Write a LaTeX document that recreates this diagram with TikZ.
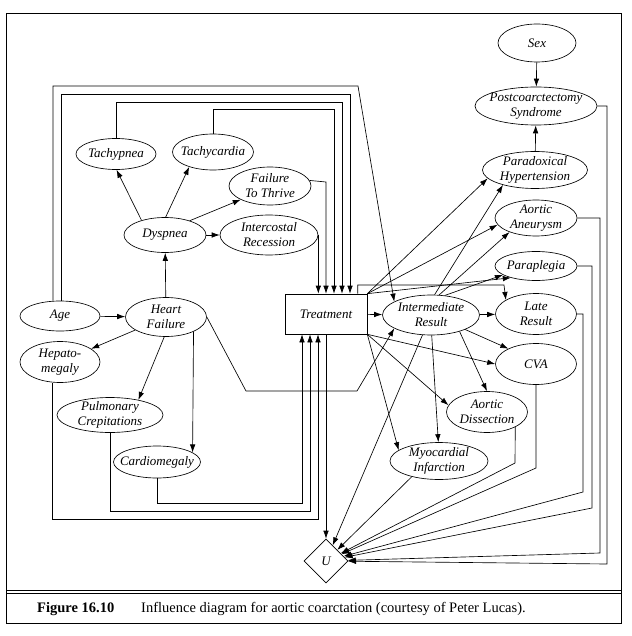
\documentclass[tikz,border=0pt]{standalone}
\usepackage{fontspec}
\setmainfont{Liberation Serif}
\usetikzlibrary{shapes.geometric,arrows.meta,calc}
\begin{document}
\begin{tikzpicture}[x=1pt,y=-1pt,
  ell/.style 2 args={ellipse, draw, line width=0.65pt, minimum width=#1, minimum height=#2, inner sep=0pt},
  lbl/.style={font=\fontsize{13}{15}\selectfont\itshape, align=center, inner sep=0pt},
  arr/.style={line width=0.65pt, -{Latex[length=8pt,width=5.5pt]}},
  boxnode/.style={draw, rectangle, line width=0.65pt, minimum width=82pt, minimum height=40pt, inner sep=0pt, font=\fontsize{13}{15}\selectfont\itshape},
  dia/.style={diamond, draw, line width=0.65pt, minimum width=44pt, minimum height=44pt, inner sep=0pt}
]
\useasboundingbox (0,0) rectangle (631,636);
\fill[white] (0,0) rectangle (631,636);
% frame and caption
\draw[line width=0.9pt] (6,13) rectangle (621,623);
\draw[line width=0.6pt] (6,590) -- (621,590);
\draw[line width=0.6pt] (6,593.5) -- (621,593.5);
\node[anchor=base west, inner sep=0pt, font=\fontsize{14.5}{17}\selectfont\bfseries] (figno) at (37,612) {Figure 16.10};
\node[anchor=base west, inner sep=0pt, font=\fontsize{14.5}{17}\selectfont] (cap) at (141,612) {Influence diagram for aortic coarctation (courtesy of Peter Lucas).};

% nodes - right column
\node[ell={78pt}{38pt}, label={[lbl]center:Sex}] (sex) at (537,43) {};
\node[ell={122pt}{38pt}, label={[lbl]center:Postcoarctectomy\\Syndrome}] (pcs) at (536,106) {};
\node[ell={105pt}{37pt}, label={[lbl]center:Paradoxical\\Hypertension}] (ph) at (535,170) {};
\node[ell={82pt}{36pt}, label={[lbl]center:Aortic\\Aneurysm}] (aa) at (536,218) {};
\node[ell={82pt}{29pt}, label={[lbl]center:Paraplegia}] (pp) at (536,266) {};
\node[ell={81pt}{41pt}, label={[lbl]center:Late\\Result}] (lr) at (536,314) {};
\node[ell={81pt}{41pt}, label={[lbl]center:CVA}] (cva) at (536,364) {};
% middle
\node[ell={97pt}{40pt}, label={[lbl]center:Intermediate\\Result}] (ir) at (431,315) {};
\node[boxnode] (tr) at (326,314) {Treatment};
\node[ell={81pt}{41pt}, label={[lbl]center:Aortic\\Dissection}] (ad) at (487,412) {};
\node[ell={98pt}{37pt}, label={[lbl]center:Myocardial\\Infarction}] (mi) at (439,461) {};
\node[dia, label={[lbl]center:U}] (u) at (326,561) {};
% left
\node[ell={80pt}{30pt}, label={[lbl]center:Age}] (age) at (60,316) {};
\node[ell={81pt}{39pt}, label={[lbl]center:Heart\\Failure}] (hf) at (166,317) {};
\node[ell={80pt}{41pt}, label={[lbl]center:Hepato-\\megaly}] (hep) at (60,362) {};
\node[ell={106pt}{35pt}, label={[lbl]center:Pulmonary\\Crepitations}] (pc) at (110,415) {};
\node[ell={87pt}{32pt}, label={[lbl]center:Cardiomegaly}] (cm) at (157,462) {};
\node[ell={82pt}{35pt}, label={[lbl]center:Dyspnea}] (dys) at (165,235) {};
\node[ell={98pt}{40pt}, label={[lbl]center:Intercostal\\Recession}] (icr) at (269,235) {};
\node[ell={82pt}{38pt}, label={[lbl]center:Failure\\To Thrive}] (ftt) at (270,186) {};
\node[ell={80pt}{31pt}, label={[lbl]center:Tachypnea}] (tp) at (116,154) {};
\node[ell={81pt}{36pt}, label={[lbl]center:Tachycardia}] (tc) at (213,152) {};

% left edges
\draw[arr] (age) -- (hf);
\draw[arr] (hf) -- (dys);
\draw[arr] (hf) -- (hep);
\draw[arr] (hf.265) -- (pc.28);
\draw[arr] (hf.-28) -- (cm.15);
\draw[arr] (dys.148) -- (tp.-88);
\draw[arr] (dys.88) -- (tc.212);
\draw[arr] (dys.30) -- (ftt.205);
\draw[arr] (dys) -- (icr);

% top routing into treatment / intermediate result
\draw[arr] ($(age.north)+(-7,0)$) |- (358,86) -- (ir.160);
\draw[arr] ($(age.north)+(1,0)$) |- (350,94) -- (tr.north -| 350,0);
\draw[arr] (tp.north) |- (342,102) -- (tr.north -| 342,0);
\draw[arr] (tc.north) |- (334,109) -- (tr.north -| 334,0);
\draw[arr] (ftt.8) -- (326,182) -- (tr.north -| 326,0);
\draw[arr] (icr.east) -- (tr.north -| icr.east);

% bottom routing into treatment
\draw[arr] ($(hep.south)+(-8,0)$) |- (318,519) -- (tr.south -| 318,0);
\draw[arr] (pc.south) |- (310,511) -- (tr.south -| 310,0);
\draw[arr] (cm.south) |- (302,503) -- (tr.south -| 302,0);

% heart failure to intermediate result
\draw[arr] (hf.east) -- (246,391) -- (357,391) -- (ir.200);

% treatment outgoing
\draw[arr] (tr) -- (ir);
\draw[arr] (tr.north east) -- (ph.190);
\draw[arr] (tr.north east) -- (aa.190);
\draw[arr] (tr.north east) -- (pp.205);
\draw[arr] ($(tr.north west)+(73,0)$) |- (504,285) -- (lr.155);
\draw[arr] (tr.south east) -- (cva.west);
\draw[arr] (tr.south east) -- (ad.170);
\draw[arr] (tr.south east) -- (mi.165);
\draw[arr] (tr) -- (u);

% intermediate result outgoing
\draw[arr] (ir.80) -- (ph.205);
\draw[arr] (ir.68) -- (aa.208);
\draw[arr] (ir.55) -- (pp.195);
\draw[arr] (ir) -- (lr);
\draw[arr] (ir.-23) -- (cva.151);
\draw[arr] (ir.-30) -- (ad.north);
\draw[arr] (ir.-88) -- (mi.92);
\draw[arr] (ir) -- (u);

% right side
\draw[arr] (sex) -- (pcs);
\draw[arr] (ph) -- (pcs);
\draw[arr] (pcs.east) -| (607,564) -- (u);
\draw[arr] (aa.east) -| (600,553) -- (u);
\draw[arr] (pp.east) -| (592,508) -- (u);
\draw[arr] (lr.east) -| (583,492) -- (u);
\draw[arr] (cva.south) -- (536,468) -- (u);
\draw[arr] (ad.-28) -- (515,463) -- (u);
\draw[arr] (mi.210) -- (u);
\end{tikzpicture}
\end{document}
